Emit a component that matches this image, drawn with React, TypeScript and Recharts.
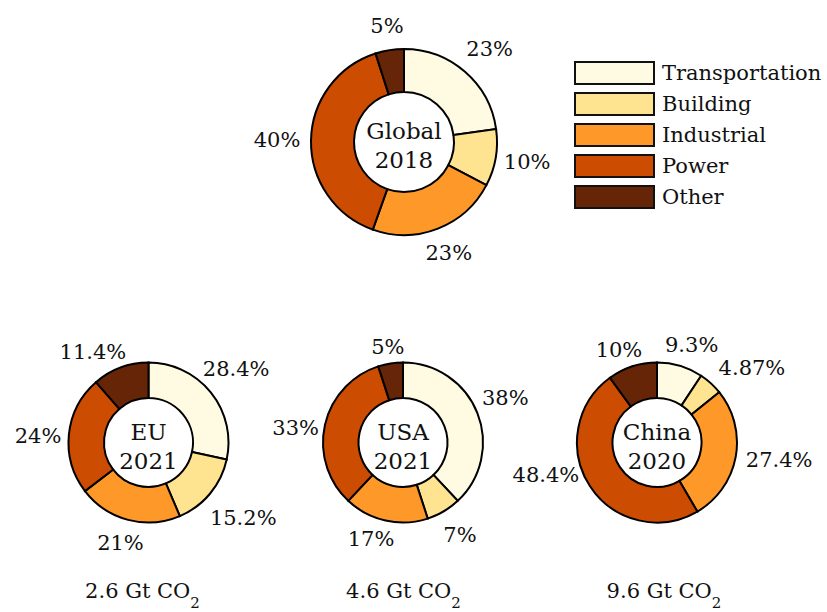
import { PieChart, Pie, Cell } from 'recharts'

const categories = ['Transportation', 'Building', 'Industrial', 'Power', 'Other']
const colors = ['#FFFBE3', '#FEE391', '#FE9929', '#CC4C02', '#662506']

const globalValues = [23, 10, 23, 40, 5]
const euValues = [28.4, 15.2, 21, 24, 11.4]
const usaValues = [38, 7, 17, 33, 5]
const chinaValues = [9.3, 4.87, 27.4, 48.4, 10]

// hand placement of the percentage labels, as in the original figure
const globalNudges = [[5, 0], [2, -1], [0, -4], [-4, 0], [2, 6]]
const euNudges = [[2, -4], [10, 5], [0, -6], [-1, 5], [-17, 13]]
const usaNudges = [[0, -4], [1, -2], [-8, -11], [0, 9], [2, 13]]
const chinaNudges = [[3, 8], [21, 7], [14, -2], [-19, -28], [-4, 12]]

const charts = [
  { name: 'Global', year: '2018', values: globalValues, nudges: globalNudges, cx: 404, cy: 142, outer: 93, inner: 50, caption: '', captionX: 0 },
  { name: 'EU', year: '2021', values: euValues, nudges: euNudges, cx: 148.5, cy: 442.5, outer: 80, inner: 44.5, caption: '2.6 Gt CO', captionX: 142.5 },
  { name: 'USA', year: '2021', values: usaValues, nudges: usaNudges, cx: 403, cy: 442.5, outer: 80, inner: 44.5, caption: '4.6 Gt CO', captionX: 403.5 },
  { name: 'China', year: '2020', values: chinaValues, nudges: chinaNudges, cx: 657, cy: 442.5, outer: 80, inner: 44.5, caption: '9.6 Gt CO', captionX: 664 },
]

const FONT = '"DejaVu Serif", serif'
const RADIAN = Math.PI / 180

const makeLabel = (nudges: number[][]) => (props: any) => {
  const { cx, cy, midAngle, outerRadius, value, index } = props
  const r = outerRadius + 30
  const [nx, ny] = nudges[index] || [0, 0]
  const x = cx + r * Math.cos(-midAngle * RADIAN) + nx
  const y = cy + r * Math.sin(-midAngle * RADIAN) + ny
  return (
    <text key={index} x={x} y={y} textAnchor="middle" dominantBaseline="central" fontFamily={FONT} fontSize={21} fill="#111">
      {`${value}%`}
    </text>
  )
}

export default function App() {
  return (
    <div style={{ position: 'absolute', left: 0, top: 0, width: 827, height: 612, background: '#fff' }}>
      <PieChart width={827} height={612} margin={{ top: 0, right: 0, bottom: 0, left: 0 }}>
        {charts.map((c) => (
          <Pie
            key={c.name}
            data={c.values.map((v, i) => ({ name: categories[i], value: v }))}
            dataKey="value"
            cx={c.cx}
            cy={c.cy}
            outerRadius={c.outer}
            innerRadius={c.inner}
            startAngle={90}
            endAngle={-270}
            stroke="#000"
            strokeWidth={2}
            label={makeLabel(c.nudges)}
            labelLine={false}
            isAnimationActive={false}
          >
            {c.values.map((_, i) => (
              <Cell key={i} fill={colors[i]} />
            ))}
          </Pie>
        ))}
      </PieChart>

      <svg width={827} height={612} style={{ position: 'absolute', left: 0, top: 0, pointerEvents: 'none' }}>
        {charts.map((c) => (
          <g key={c.name} fontFamily={FONT} fill="#111" textAnchor="middle">
            <text x={c.cx} y={c.cy - 11} fontSize={23} dominantBaseline="central">{c.name}</text>
            <text x={c.cx} y={c.cy + 18} fontSize={23} dominantBaseline="central">{c.year}</text>
            {c.caption && (
              <text x={c.captionX} y={c.cy + 148} fontSize={21} dominantBaseline="central">
                {c.caption}
                <tspan fontSize={15} dy={12}>2</tspan>
              </text>
            )}
          </g>
        ))}
      </svg>

      <div style={{ position: 'absolute', left: 574, top: 58, fontFamily: FONT, fontSize: 21, color: '#111' }}>
        {categories.map((cat, i) => (
          <div key={cat} style={{ display: 'flex', alignItems: 'center', height: 30.8 }}>
            <div style={{ width: 77, height: 20, background: colors[i], border: '2px solid #111', marginRight: 7 }} />
            <span>{cat}</span>
          </div>
        ))}
      </div>
    </div>
  )
}
